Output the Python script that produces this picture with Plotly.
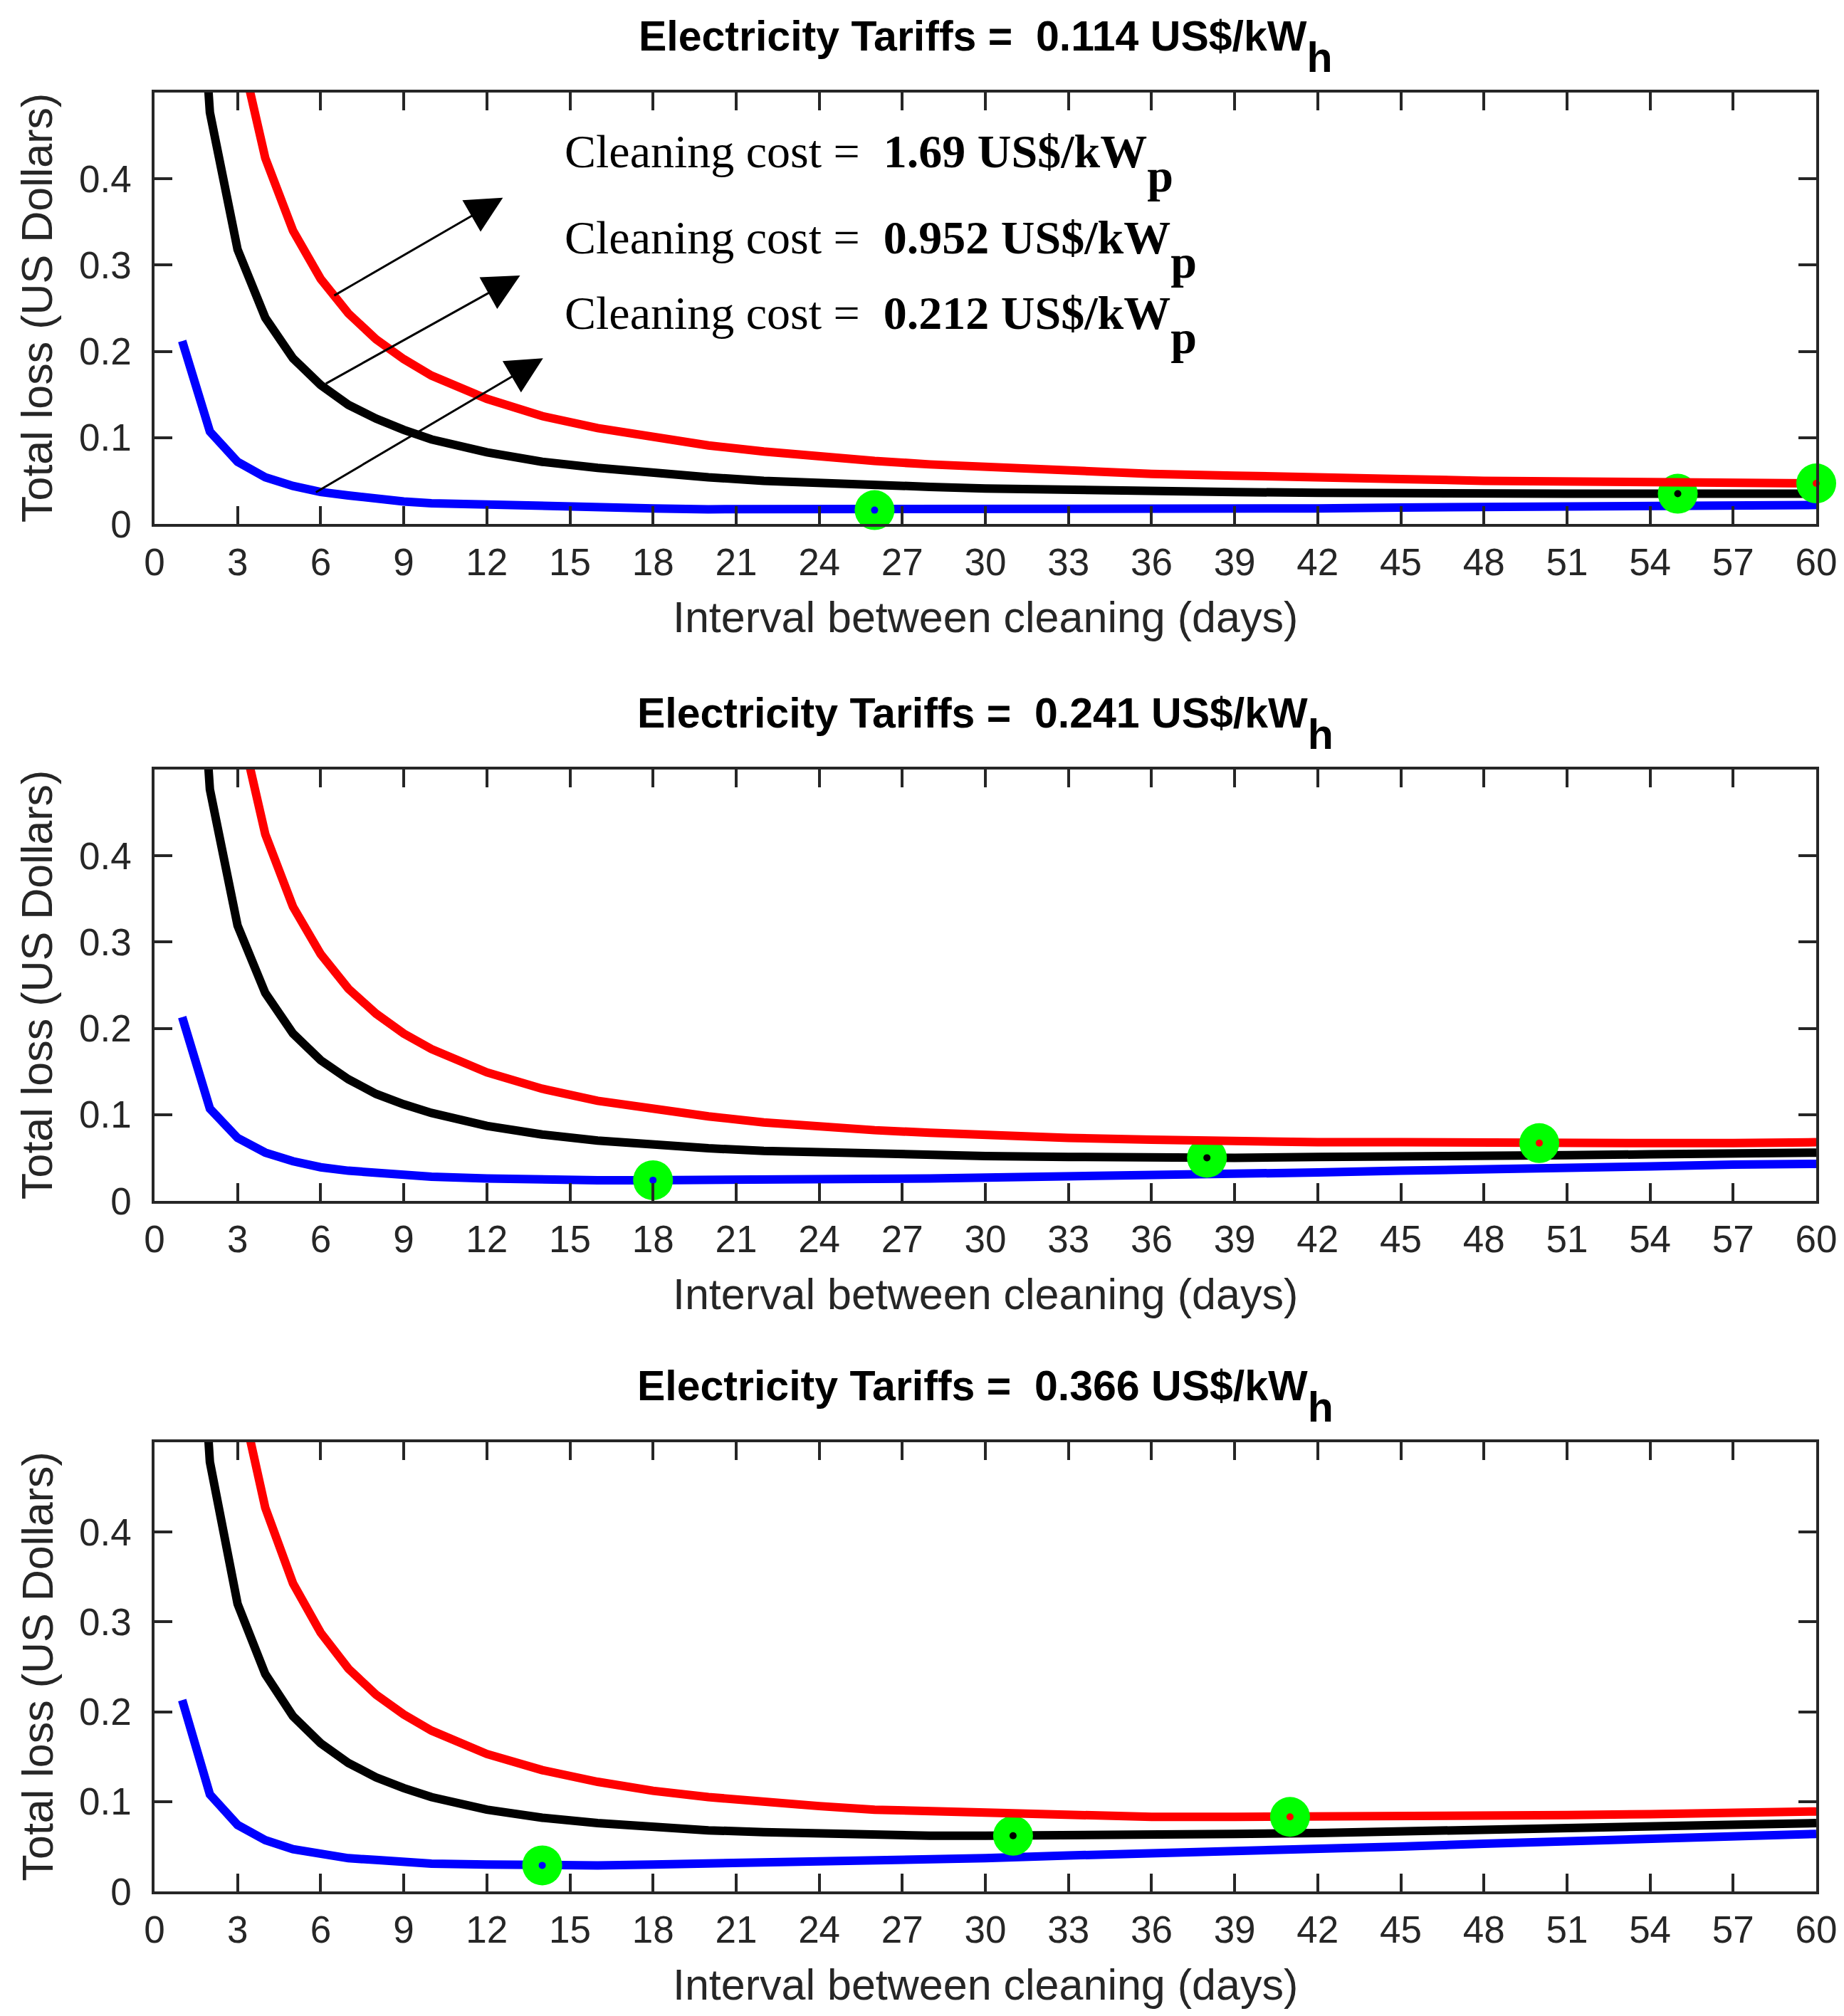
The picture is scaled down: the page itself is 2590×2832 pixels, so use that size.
import plotly.graph_objects as go

# interval between cleaning (days) at which the curves were read
days = [1, 2, 3, 4, 5, 6, 7, 8, 9, 10, 12, 14, 16, 18, 20, 22, 24, 26, 28, 30,
        33, 36, 39, 42, 45, 48, 51, 54, 57, 60]

# tariff 0.114 US$/kWh
t1_blue = [0.212, 0.107, 0.072, 0.054, 0.044, 0.037, 0.033, 0.029, 0.026, 0.024,
           0.022, 0.020, 0.018, 0.018, 0.017, 0.017, 0.016, 0.016, 0.016, 0.017,
           0.017, 0.017, 0.018, 0.018, 0.019, 0.020, 0.020, 0.021, 0.022, 0.022]
t1_black = [0.952, 0.477, 0.318, 0.239, 0.192, 0.161, 0.138, 0.122, 0.109, 0.098,
            0.083, 0.072, 0.065, 0.059, 0.054, 0.050, 0.047, 0.045, 0.043, 0.041,
            0.039, 0.038, 0.037, 0.036, 0.035, 0.035, 0.035, 0.035, 0.035, 0.035]
t1_red = [1.690, 0.846, 0.564, 0.424, 0.340, 0.284, 0.244, 0.214, 0.191, 0.172,
          0.145, 0.125, 0.111, 0.100, 0.091, 0.084, 0.078, 0.073, 0.069, 0.066,
          0.062, 0.058, 0.056, 0.053, 0.052, 0.050, 0.049, 0.048, 0.048, 0.047]

# tariff 0.241 US$/kWh
t2_blue = [0.213, 0.107, 0.073, 0.056, 0.046, 0.039, 0.035, 0.032, 0.030, 0.028,
           0.026, 0.024, 0.024, 0.024, 0.024, 0.024, 0.025, 0.026, 0.026, 0.027,
           0.028, 0.030, 0.031, 0.033, 0.035, 0.036, 0.038, 0.040, 0.042, 0.043]
t2_black = [0.953, 0.477, 0.319, 0.241, 0.194, 0.163, 0.141, 0.124, 0.112, 0.102,
            0.087, 0.077, 0.070, 0.065, 0.061, 0.058, 0.056, 0.054, 0.053, 0.052,
            0.051, 0.050, 0.050, 0.051, 0.051, 0.052, 0.053, 0.054, 0.055, 0.056]
t2_red = [1.691, 0.846, 0.565, 0.425, 0.341, 0.286, 0.246, 0.217, 0.194, 0.176,
          0.149, 0.130, 0.116, 0.106, 0.098, 0.091, 0.086, 0.082, 0.079, 0.076,
          0.073, 0.071, 0.069, 0.068, 0.068, 0.067, 0.067, 0.067, 0.067, 0.068]

# tariff 0.366 US$/kWh
t3_blue = [0.213, 0.108, 0.074, 0.057, 0.047, 0.041, 0.037, 0.035, 0.033, 0.031,
           0.030, 0.029, 0.029, 0.030, 0.031, 0.032, 0.033, 0.034, 0.036, 0.037,
           0.040, 0.042, 0.045, 0.047, 0.050, 0.053, 0.056, 0.058, 0.061, 0.064]
t3_black = [0.953, 0.478, 0.320, 0.242, 0.195, 0.165, 0.143, 0.127, 0.115, 0.105,
            0.091, 0.082, 0.076, 0.071, 0.068, 0.066, 0.064, 0.063, 0.062, 0.062,
            0.062, 0.063, 0.064, 0.065, 0.067, 0.068, 0.070, 0.072, 0.074, 0.076]
t3_red = [1.691, 0.847, 0.566, 0.427, 0.343, 0.288, 0.248, 0.219, 0.197, 0.179,
          0.153, 0.135, 0.122, 0.112, 0.105, 0.099, 0.095, 0.091, 0.089, 0.087,
          0.084, 0.083, 0.083, 0.083, 0.083, 0.084, 0.085, 0.086, 0.087, 0.089]

# optimum cleaning interval (green markers): blue, black, red
opt_days = [[26, 55, 60], [18, 38, 50], [14, 31, 41]]
opt_loss = [[0.016, 0.035, 0.047], [0.024, 0.050, 0.067], [0.029, 0.062, 0.083]]

tariffs = ["0.114", "0.241", "0.366"]
cleaning_costs = ["1.69", "0.952", "0.212"]
x_ticks = list(range(0, 61, 3))
y_ticks = [0, 0.1, 0.2, 0.3, 0.4]
y_tick_text = ["0", "0.1", "0.2", "0.3", "0.4"]

series = [
    [t1_blue, t1_black, t1_red],
    [t2_blue, t2_black, t2_red],
    [t3_blue, t3_black, t3_red],
]
colors = ["#0000ff", "#000000", "#ff0000"]

W, H = 2590, 2832
AX_COLOR = "#262626"
SANS = "Liberation Sans, Arial, sans-serif"
SERIF = "Liberation Serif, Times New Roman, serif"
NBSP = "\u00a0"

# pixel boxes of the three axes (top, bottom); all share the same left/right
x_left, x_right = 209, 2543
boxes = [(122, 728), (1073, 1679), (2018, 2649)]

# MATLAB-like subscript: full size letter, dropped well below the baseline
SUB = '<sub><span style="font-size:143%%; baseline-shift:-0.3em">%s</span></sub>'

fig = go.Figure()

for i, curves in enumerate(series):
    xa = "x" if i == 0 else "x%d" % (i + 1)
    ya = "y" if i == 0 else "y%d" % (i + 1)
    for j, vals in enumerate(curves):
        fig.add_trace(go.Scatter(
            x=days, y=vals, mode="lines", xaxis=xa, yaxis=ya,
            line=dict(color=colors[j], width=12), showlegend=False,
        ))
        fig.add_trace(go.Scatter(
            x=[opt_days[i][j]], y=[opt_loss[i][j]], mode="markers",
            xaxis=xa, yaxis=ya, cliponaxis=False, showlegend=False,
            marker=dict(color="#00ff00", size=56, line=dict(width=0)),
        ))
        fig.add_trace(go.Scatter(
            x=[opt_days[i][j]], y=[opt_loss[i][j]], mode="markers",
            xaxis=xa, yaxis=ya, cliponaxis=False, showlegend=False,
            marker=dict(color=colors[j], size=10, line=dict(width=0)),
        ))

axis_common = dict(
    showline=True, linecolor=AX_COLOR, linewidth=3.5, mirror="ticks",
    ticks="inside", ticklen=25, tickwidth=3.5, tickcolor=AX_COLOR,
    showgrid=False, zeroline=False, automargin=False,
    tickfont=dict(family=SANS, size=53, color=AX_COLOR),
)

layout = dict(
    width=W, height=H, paper_bgcolor="white", plot_bgcolor="white",
    margin=dict(l=0, r=0, t=0, b=0, autoexpand=False), showlegend=False,
)
annotations = []

for i, (top, bottom) in enumerate(boxes):
    sfx = "" if i == 0 else str(i + 1)
    y0 = (H - bottom) / H
    y1 = (H - top) / H
    layout["xaxis" + sfx] = dict(
        axis_common, domain=[x_left / W, x_right / W], range=[0, 60],
        tickvals=x_ticks, anchor="y" + sfx, ticklabelstandoff=5,
    )
    layout["yaxis" + sfx] = dict(
        axis_common, domain=[y0, y1], range=[0, 0.5],
        tickvals=y_ticks, ticktext=y_tick_text, anchor="x" + sfx,
        ticklabelstandoff=18,
    )
    # subplot title
    annotations.append(dict(
        text="<b>Electricity Tariffs =%s %s US$/kW%s</b>" % (NBSP, tariffs[i], SUB % "h"),
        xref="paper", yref="paper", x=(x_left + x_right) / 2 / W, y=y1,
        xanchor="center", yanchor="bottom", yshift=14, showarrow=False,
        font=dict(family=SANS, size=59, color="black"),
    ))
    # x axis title
    annotations.append(dict(
        text="Interval between cleaning (days)",
        xref="paper", yref="paper", x=(x_left + x_right) / 2 / W,
        y=(H - bottom - 131) / H, xanchor="center", yanchor="middle",
        showarrow=False, font=dict(family=SANS, size=61, color=AX_COLOR),
    ))
    # y axis title
    annotations.append(dict(
        text="Total loss (US Dollars)", textangle=-90,
        xref="paper", yref="paper", x=44 / W, y=(y0 + y1) / 2,
        xanchor="center", yanchor="middle", showarrow=False,
        font=dict(family=SANS, size=61, color=AX_COLOR),
    ))

# cleaning cost labels in the top panel
label_y = [0.418, 0.318, 0.231]
for k, cost in enumerate(cleaning_costs):
    annotations.append(dict(
        text="Cleaning cost =%s <b>%s US$/kW%s</b>" % (NBSP, cost, SUB % "p"),
        xref="x", yref="y", x=14.75, y=label_y[k],
        xanchor="left", yanchor="middle", showarrow=False,
        font=dict(family=SERIF, size=66, color="black"),
    ))

# arrows pointing from the curves to their labels (tail -> head)
arrow_tail = [(6.45, 0.264), (6.15, 0.162), (5.79, 0.036)]
arrow_head = [(12.58, 0.378), (13.20, 0.288), (14.03, 0.192)]
for (tx, ty), (hx, hy) in zip(arrow_tail, arrow_head):
    annotations.append(dict(
        x=hx, y=hy, ax=tx, ay=ty, xref="x", yref="y", axref="x", ayref="y",
        showarrow=True, arrowhead=2, arrowsize=3.4, arrowwidth=3,
        arrowcolor="black", text="",
    ))

layout["annotations"] = annotations
fig.update_layout(**layout)

fig.write_html("out.html")
